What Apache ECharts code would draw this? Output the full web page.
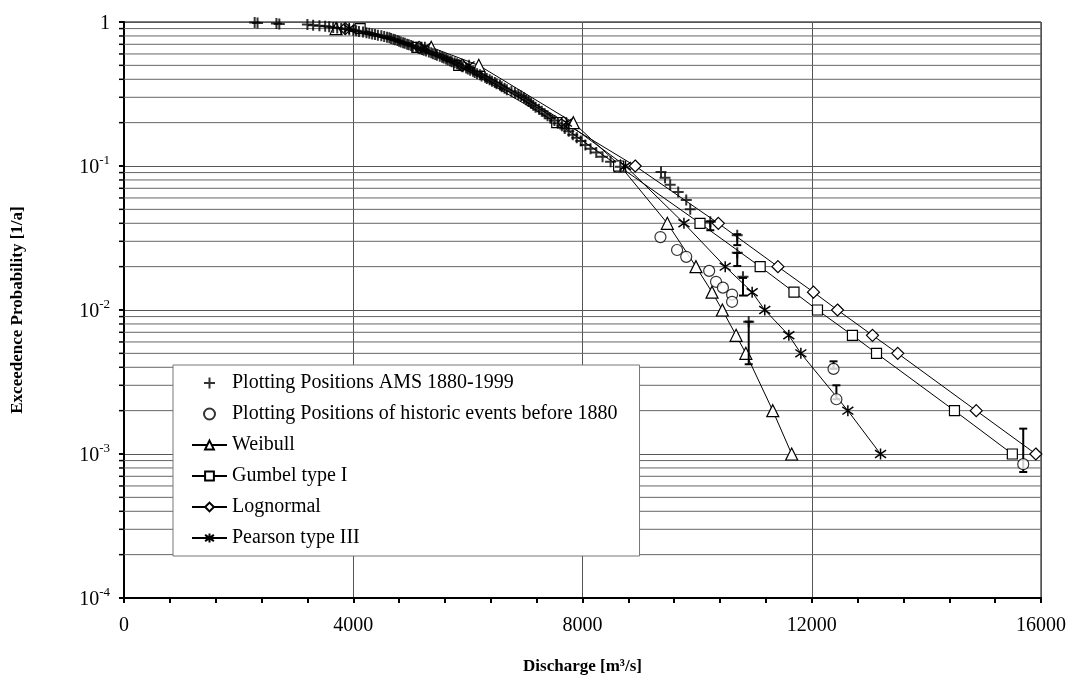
<!DOCTYPE html>
<html>
<head>
<meta charset="utf-8">
<script src="https://cdn.jsdelivr.net/npm/echarts@6/dist/echarts.min.js"></script>
<style>
  html, body { margin: 0; padding: 0; background: #fff; }
  #chart { width: 1069px; height: 680px; }
</style>
</head>
<body>
<div id="chart"></div>
<script>
// exceedence probabilities of the fitted return periods (1.11 ... 1000 a)
const fitP = [0.9, 0.667, 0.5, 0.2, 0.1, 0.04, 0.02, 0.0133, 0.01, 0.00667, 0.005, 0.002, 0.001];
const weibullQ = [3700, 5360, 6190, 7840, 8660, 9480, 9980, 10260, 10440, 10680, 10850, 11320, 11650];
const gumbelQ = [4120, 5110, 5840, 7550, 8630, 10050, 11100, 11690, 12100, 12710, 13130, 14490, 15500];
const lognormalQ = [3860, 5150, 5900, 7670, 8920, 10370, 11410, 12030, 12450, 13060, 13500, 14870, 15910];
const pearsonQ = [3930, 5250, 6020, 7720, 8750, 9770, 10490, 10960, 11180, 11600, 11810, 12630, 13200];

// annual maximum series 1880-1999, plotting positions
const amsQ = [
  2280, 2330, 2660, 2710, 3200, 3300, 3410, 3510, 3580, 3650,
  3720, 3790, 3860, 3930, 4000, 4050, 4100, 4170, 4230, 4280,
  4330, 4380, 4430, 4490, 4540, 4590, 4630, 4660, 4700, 4730,
  4770, 4800, 4830, 4870, 4900, 4940, 4970, 5010, 5040, 5100,
  5130, 5170, 5200, 5230, 5270, 5320, 5360, 5390, 5430, 5460,
  5510, 5550, 5580, 5620, 5650, 5690, 5720, 5770, 5810, 5840,
  5880, 5910, 5970, 6000, 6040, 6090, 6120, 6160, 6210, 6240,
  6300, 6330, 6380, 6420, 6470, 6500, 6560, 6590, 6640, 6680,
  6760, 6820, 6880, 6930, 6980, 7020, 7060, 7100, 7140, 7180,
  7240, 7290, 7340, 7390, 7440, 7510, 7570, 7640, 7690, 7760,
  7830, 7900, 7970, 8050, 8140, 8240, 8350, 8490, 8660,
  9370, 9440, 9530, 9670, 9810, 9880, 10230, 10700, 10700, 10800, 10900
];
const amsP = [
  0.992, 0.983, 0.975, 0.967, 0.959, 0.950, 0.942, 0.934, 0.926, 0.917,
  0.909, 0.901, 0.893, 0.884, 0.876, 0.868, 0.860, 0.851, 0.843, 0.835,
  0.826, 0.818, 0.810, 0.802, 0.793, 0.785, 0.777, 0.769, 0.760, 0.752,
  0.744, 0.736, 0.727, 0.719, 0.711, 0.702, 0.694, 0.686, 0.678, 0.669,
  0.661, 0.653, 0.645, 0.636, 0.628, 0.620, 0.612, 0.603, 0.595, 0.587,
  0.579, 0.570, 0.562, 0.554, 0.545, 0.537, 0.529, 0.521, 0.512, 0.504,
  0.496, 0.488, 0.479, 0.471, 0.463, 0.455, 0.446, 0.438, 0.430, 0.421,
  0.413, 0.405, 0.397, 0.388, 0.380, 0.372, 0.364, 0.355, 0.347, 0.339,
  0.331, 0.322, 0.314, 0.306, 0.298, 0.289, 0.281, 0.273, 0.264, 0.256,
  0.248, 0.240, 0.231, 0.223, 0.215, 0.207, 0.198, 0.190, 0.182, 0.174,
  0.165, 0.157, 0.149, 0.140, 0.132, 0.124, 0.116, 0.107, 0.099,
  0.091, 0.083, 0.074, 0.066, 0.058, 0.050, 0.041, 0.033, 0.025, 0.017, 0.0083
];

// historic events before 1880
const histQ = [9360, 9650, 9810, 10210, 10330, 10450, 10610, 10610, 12380, 12430, 15690];
const histP = [0.0321, 0.0261, 0.0234, 0.0187, 0.0157, 0.0143, 0.0128, 0.0114, 0.0039, 0.0024, 0.00085];

// uncertainty ranges of the plotting positions
const errQ = [10230, 10700, 10700, 10800, 10900, 12380, 12430, 15690];
const errLow = [0.0358, 0.0282, 0.0202, 0.0126, 0.0042, 0.0039, 0.0024, 0.00075];
const errHigh = [0.0413, 0.0336, 0.0249, 0.0167, 0.0083, 0.0044, 0.0030, 0.0015];

// axes
const xTicks = [0, 4000, 8000, 12000, 16000];
const decades = [0.0001, 0.001, 0.01, 0.1];
const minorMult = [2, 3, 4, 5, 6, 7, 8, 9];

const FONT = 'Liberation Serif';
const PLUS = 'path://M5,0L5,10M0,5L10,5';
const STAR = 'path://M5,0L5,10M1,1.5L9,8.5M9,1.5L1,8.5';

const minorGrid = [];
decades.forEach(d => minorMult.forEach(m => minorGrid.push(+(d * m).toPrecision(3))));

function pairs(q, p) {
  return q.map((v, i) => [v, p[i]]);
}

function fitSeries(name, q, symbol, size) {
  const star = symbol === STAR;
  return {
    name: name,
    type: 'line',
    data: pairs(q, fitP),
    symbol: symbol,
    symbolSize: size,
    lineStyle: { color: '#000', width: 1 },
    itemStyle: {
      color: star ? '#000' : '#fff',
      borderColor: '#000',
      borderWidth: star ? 1.5 : 1.2,
    },
    z: 3,
  };
}

const chart = echarts.init(document.getElementById('chart'));
chart.setOption({
  animation: false,
  backgroundColor: '#fff',
  textStyle: { fontFamily: FONT, color: '#000' },
  grid: {
    left: 124, right: 25, top: 22, bottom: 77,
    show: true, borderColor: '#000', borderWidth: 1,
  },
  legend: {
    left: 173,
    top: 365,
    orient: 'vertical',
    backgroundColor: '#fff',
    borderColor: '#777',
    borderWidth: 1,
    padding: [8, 22, 8, 18],
    itemGap: 11,
    itemWidth: 35,
    itemHeight: 11,
    textStyle: { fontFamily: FONT, fontSize: 20, color: '#000' },
    data: [
      'Plotting Positions AMS 1880-1999',
      'Plotting Positions of historic events before 1880',
      'Weibull', 'Gumbel type I', 'Lognormal', 'Pearson type III',
    ],
  },
  xAxis: {
    type: 'value',
    min: xTicks[0],
    max: xTicks[xTicks.length - 1],
    interval: 4000,
    name: 'Discharge [m³/s]',
    nameLocation: 'middle',
    nameGap: 60,
    nameTextStyle: { fontFamily: FONT, fontSize: 17, fontWeight: 'bold', color: '#000' },
    axisLine: { lineStyle: { color: '#000', width: 2 } },
    axisTick: { length: 5, lineStyle: { color: '#000', width: 2 } },
    minorTick: { show: true, splitNumber: 5, length: 5, lineStyle: { color: '#000', width: 2 } },
    splitLine: { show: true, lineStyle: { color: '#555', width: 1 } },
    axisLabel: { fontFamily: FONT, fontSize: 20, color: '#000', margin: 18, formatter: v => String(v) },
  },
  yAxis: {
    type: 'log',
    logBase: 10,
    min: 0.0001,
    max: 1,
    splitNumber: 4,
    name: 'Exceedence Probability [1/a]',
    nameLocation: 'middle',
    nameGap: 98,
    nameTextStyle: { fontFamily: FONT, fontSize: 17, fontWeight: 'bold', color: '#000' },
    axisLine: { show: true, lineStyle: { color: '#000', width: 2 } },
    axisTick: { show: true, length: 5, lineStyle: { color: '#000', width: 2 } },
    splitLine: { show: true, lineStyle: { color: '#555', width: 1 } },
    axisLabel: {
      margin: 14,
      formatter: v => {
        const e = Math.round(Math.log10(v));
        return e === 0 ? '{b|1}' : '{b|10}{s|' + e + '}';
      },
      rich: {
        b: { fontFamily: FONT, fontSize: 20, color: '#000', lineHeight: 24, verticalAlign: 'bottom' },
        s: { fontFamily: FONT, fontSize: 13, color: '#000', lineHeight: 24, verticalAlign: 'top' },
      },
    },
  },
  series: [
    {
      // minor log grid lines and their ticks on the y axis
      name: 'grid',
      type: 'custom',
      silent: true,
      clip: false,
      z: 1,
      data: minorGrid.map(v => [xTicks[0], v]),
      renderItem: (params, api) => {
        const v = api.value(1);
        const a = api.coord([xTicks[0], v]);
        const b = api.coord([xTicks[xTicks.length - 1], v]);
        return {
          type: 'group',
          children: [
            { type: 'line', shape: { x1: a[0], y1: a[1], x2: b[0], y2: b[1] }, style: { stroke: '#666', lineWidth: 1 } },
            { type: 'line', shape: { x1: a[0] - 5, y1: a[1], x2: a[0], y2: a[1] }, style: { stroke: '#000', lineWidth: 1.5 } },
          ],
        };
      },
    },
    fitSeries('Weibull', weibullQ, 'triangle', 12),
    fitSeries('Gumbel type I', gumbelQ, 'rect', 10),
    fitSeries('Lognormal', lognormalQ, 'diamond', 12),
    fitSeries('Pearson type III', pearsonQ, STAR, 11),
    {
      name: 'errorbars',
      type: 'custom',
      data: errQ.map((q, i) => [q, errLow[i], errHigh[i]]),
      encode: { x: 0, y: [1, 2] },
      z: 4,
      renderItem: (params, api) => {
        const a = api.coord([api.value(0), api.value(1)]);
        const b = api.coord([api.value(0), api.value(2)]);
        const w = 4;
        const st = { stroke: '#000', lineWidth: 2 };
        return {
          type: 'group',
          children: [
            { type: 'line', shape: { x1: a[0], y1: a[1], x2: b[0], y2: b[1] }, style: st },
            { type: 'line', shape: { x1: a[0] - w, y1: a[1], x2: a[0] + w, y2: a[1] }, style: st },
            { type: 'line', shape: { x1: b[0] - w, y1: b[1], x2: b[0] + w, y2: b[1] }, style: st },
          ],
        };
      },
    },
    {
      name: 'Plotting Positions of historic events before 1880',
      type: 'scatter',
      data: pairs(histQ, histP),
      symbol: 'circle',
      symbolSize: 11,
      itemStyle: { color: '#fff', borderColor: '#000', borderWidth: 1.2 },
      z: 5,
    },
    {
      name: 'Plotting Positions AMS 1880-1999',
      type: 'scatter',
      data: pairs(amsQ, amsP),
      symbol: PLUS,
      symbolSize: 11,
      itemStyle: { color: '#000', borderColor: '#000', borderWidth: 2 },
      z: 5,
    },
  ],
});
</script>
</body>
</html>
